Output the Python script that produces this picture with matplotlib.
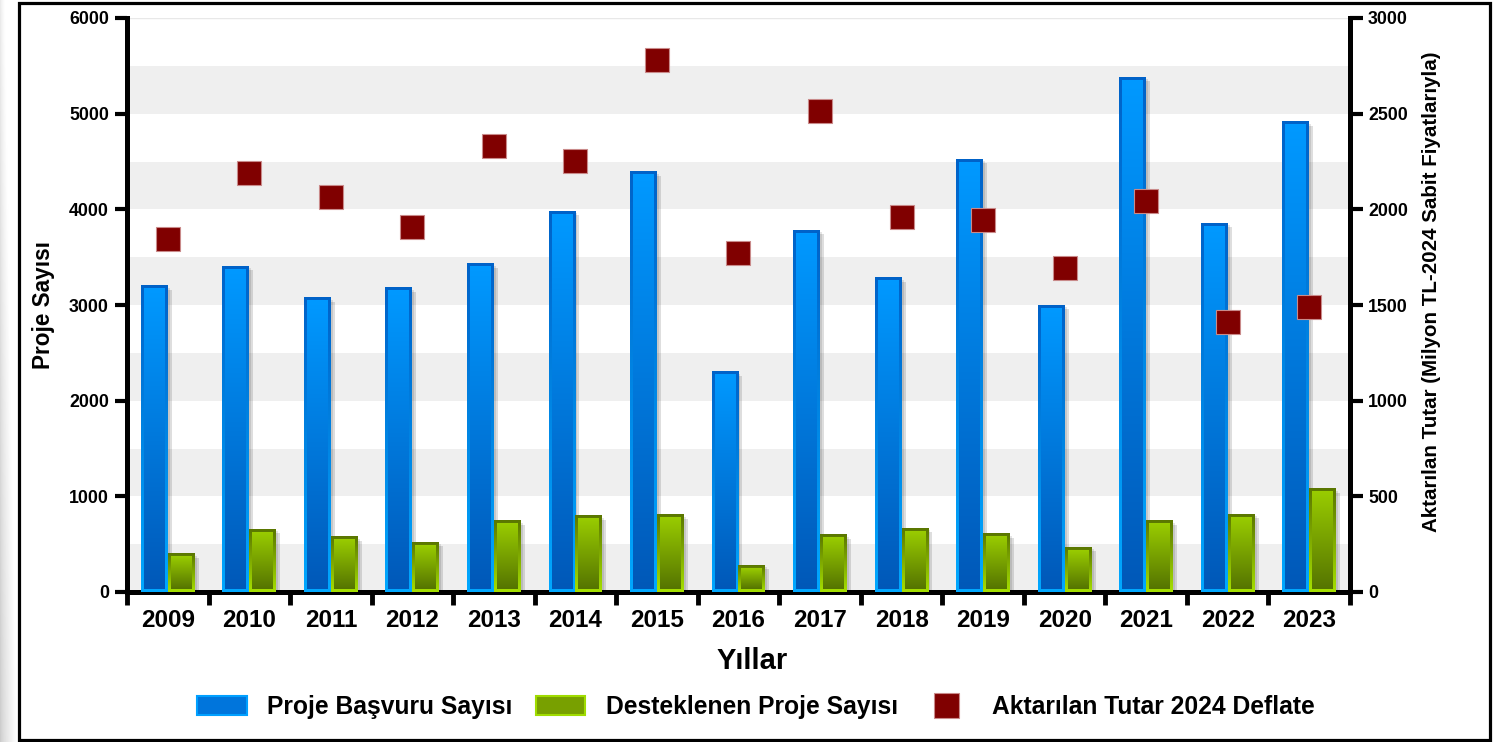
import numpy as np
import matplotlib
matplotlib.use('Agg')
import matplotlib.pyplot as plt
from matplotlib.patches import Patch, Rectangle
from matplotlib.lines import Line2D
from matplotlib.colors import LinearSegmentedColormap

plt.rcParams['font.family'] = ['Liberation Sans', 'DejaVu Sans']
plt.rcParams['font.weight'] = 'bold'

years = [str(y) for y in range(2009, 2024)]
basvuru = [3200, 3405, 3075, 3180, 3432, 3980, 4395, 2300, 3780, 3285, 4525, 3000, 5383, 3852, 4916]
desteklenen = [400, 655, 580, 520, 745, 795, 808, 280, 600, 668, 610, 468, 745, 815, 1080]
aktarilan = [1843, 2188, 2062, 1909, 2330, 2253, 2783, 1770, 2515, 1962, 1944, 1692, 2045, 1411, 1490]

W, H = 1494, 742
fig = plt.figure(figsize=(W / 100, H / 100), dpi=100)
fig.patch.set_facecolor('white')

# soluk gri kenar (sol)
bg = fig.add_axes([0, 0, 18 / W, 1], zorder=-5)
gx = np.linspace(0, 1, 20)
gy = np.linspace(0, 1, 100)
shade = 0.80 + 0.2 * gx[None, :] ** 0.7 + 0.12 * (1 - gy[:, None])
bg.imshow(np.clip(shade, 0, 1), cmap='gray', vmin=0, vmax=1, aspect='auto', extent=[0, 1, 0, 1])
bg.axis('off')

# çerçeve
fig.patches.append(Rectangle((18.5 / W, 2 / H), (1489.5 - 18.5) / W, (739 - 2) / H,
                             transform=fig.transFigure, fill=False, lw=2.3, ec='black', zorder=10))

ax_l, ax_b, ax_w, ax_h = 127 / W, 1 - 592 / H, (1350 - 127) / W, (592 - 18) / H
ax = fig.add_axes([ax_l, ax_b, ax_w, ax_h])
ax2 = ax.twinx()

n = len(years)
x = np.arange(n)
bw = 0.33
px_x = ax_w * W / n          # px per kategori
px_y = ax_h * H / 6000       # px per birim

# arka plan şeritleri
for lo in range(0, 6000, 1000):
    ax.axhspan(lo, lo + 500, color='#efefef', lw=0, zorder=0)
ax.axhline(6000, color='#e8e8e8', lw=1, zorder=0)

g = np.linspace(0, 1, 256).reshape(-1, 1)


def grad_bars(bars, face_bot, face_top, edge_bot, edge_top, b=3):
    cm_edge = LinearSegmentedColormap.from_list('e', [edge_bot, edge_top])
    cm_face = LinearSegmentedColormap.from_list('f', [face_bot, face_top])
    dx, dy = b / px_x, b / px_y
    for p in bars:
        x0, w, h = p.get_x(), p.get_width(), p.get_height()
        # gölge
        ax.add_patch(Rectangle((x0 + 4 / px_x, 0), w, h - 4 / px_y, color='black',
                               alpha=0.13, lw=0, zorder=2))
        ax.add_patch(Rectangle((x0 + 2 / px_x, 0), w, h - 2 / px_y, color='black',
                               alpha=0.10, lw=0, zorder=2))
        ax.imshow(g, extent=[x0, x0 + w, 0, h], origin='lower', cmap=cm_edge,
                  aspect='auto', zorder=3)
        ax.imshow(g, extent=[x0 + dx, x0 + w - dx, dy, h - dy], origin='lower',
                  cmap=cm_face, aspect='auto', zorder=4)


b1 = ax.bar(x - bw / 2, basvuru, bw, color='none', lw=0)
b2 = ax.bar(x + bw / 2, desteklenen, bw, color='none', lw=0)
grad_bars(b1, '#0058b8', '#0099ff', '#00a8ff', '#0062c8')
grad_bars(b2, '#557400', '#99cc00', '#a6e000', '#5a7600')

ax2.plot(x, aktarilan, 's', ms=17.5, color='#800000', mec='#c98a8a', mew=0.8, zorder=5)

ax.set_xlim(-0.5, n - 0.5)
ax.set_ylim(0, 6000)
ax2.set_ylim(0, 3000)

ax.set_xticks(x)
ax.set_xticklabels(years, fontsize=17.5, fontweight='bold')
ax.set_xticks(np.arange(-0.5, n, 1), minor=True)
ax.tick_params(axis='x', which='major', length=0, pad=12)
ax.tick_params(axis='x', which='minor', length=9, width=3.5, direction='out')
ax.set_yticks(range(0, 6001, 1000))
ax.tick_params(axis='y', length=9, width=3, labelsize=12.8, pad=4)
ax2.set_yticks(range(0, 3001, 500))
ax2.tick_params(axis='y', length=9, width=3, labelsize=12.8, pad=4)
for t in ax.get_yticklabels() + ax2.get_yticklabels():
    t.set_fontweight('bold')

for s in ['top', 'right']:
    ax.spines[s].set_visible(False)
for s in ['top', 'left', 'bottom']:
    ax2.spines[s].set_visible(False)
ax.spines['left'].set_linewidth(3.6)
ax.spines['bottom'].set_linewidth(3.6)
ax2.spines['right'].set_linewidth(3.6)

ax.set_xlabel('Yıllar', fontsize=21, fontweight='bold', labelpad=11)
ax.xaxis.label.set_x((752 - 127) / 1223)
ax.set_ylabel('Proje Sayısı', fontsize=16.3, fontweight='bold', labelpad=10)
ax2.set_ylabel('Aktarılan Tutar (Milyon TL-2024 Sabit Fiyatlarıyla)', fontsize=14.8,
               fontweight='bold', labelpad=10)
ax2.yaxis.label.set_y((592 - 292) / 574)

handles = [Patch(fc='#0075dc', ec='#00a0ff', lw=1.5),
           Patch(fc='#78a000', ec='#a0dc00', lw=1.5),
           Line2D([], [], ls='none', marker='s', ms=18, color='#800000', mec='#c98a8a', mew=0.8)]
labels = ['Proje Başvuru Sayısı', 'Desteklenen Proje Sayısı', 'Aktarılan Tutar 2024 Deflate']
fig.legend(handles, labels, loc='center', bbox_to_anchor=(756 / W, 1 - 707 / H), ncol=3,
           frameon=False, prop={'size': 17.7, 'weight': 'bold'}, handlelength=2.0,
           handleheight=0.8, handletextpad=0.85, columnspacing=0.95)

fig.savefig('out.png', dpi=100)
